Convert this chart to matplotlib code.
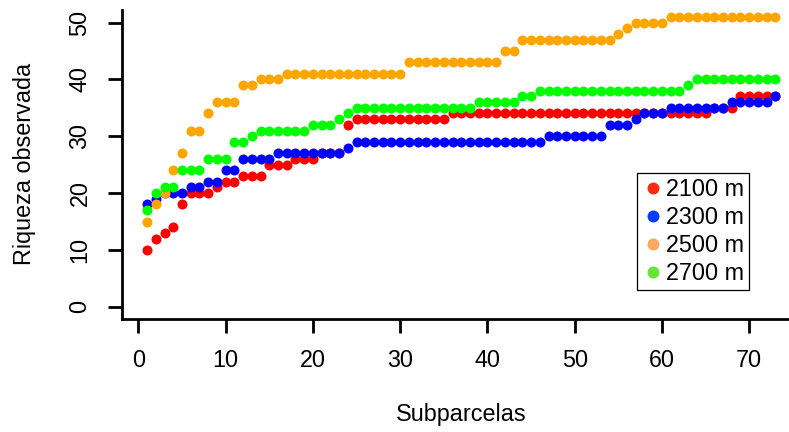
import numpy as np
import matplotlib.pyplot as plt
from matplotlib.lines import Line2D

plt.rcParams['font.family'] = ['Liberation Sans', 'DejaVu Sans']

# observed richness per cumulative subplot, one list per altitude
subparcelas = list(range(1, 74))

riqueza_2100 = [10, 12, 13, 14, 18, 20, 20, 20, 21, 22,
                22, 23, 23, 23, 25, 25, 25, 26, 26, 26,
                27, 27, 27, 32, 33, 33, 33, 33, 33, 33,
                33, 33, 33, 33, 33, 34, 34, 34, 34, 34,
                34, 34, 34, 34, 34, 34, 34, 34, 34, 34,
                34, 34, 34, 34, 34, 34, 34, 34, 34, 34,
                34, 34, 34, 34, 34, 35, 35, 35, 37, 37,
                37, 37, 37]
riqueza_2300 = [18, 19, 20, 20, 20, 21, 21, 22, 22, 24,
                24, 26, 26, 26, 26, 27, 27, 27, 27, 27,
                27, 27, 27, 28, 29, 29, 29, 29, 29, 29,
                29, 29, 29, 29, 29, 29, 29, 29, 29, 29,
                29, 29, 29, 29, 29, 29, 30, 30, 30, 30,
                30, 30, 30, 32, 32, 32, 33, 34, 34, 34,
                35, 35, 35, 35, 35, 35, 35, 36, 36, 36,
                36, 36, 37]
riqueza_2500 = [15, 18, 20, 24, 27, 31, 31, 34, 36, 36,
                36, 39, 39, 40, 40, 40, 41, 41, 41, 41,
                41, 41, 41, 41, 41, 41, 41, 41, 41, 41,
                43, 43, 43, 43, 43, 43, 43, 43, 43, 43,
                43, 45, 45, 47, 47, 47, 47, 47, 47, 47,
                47, 47, 47, 47, 48, 49, 50, 50, 50, 50,
                51, 51, 51, 51, 51, 51, 51, 51, 51, 51,
                51, 51, 51]
riqueza_2700 = [17, 20, 21, 21, 24, 24, 24, 26, 26, 26,
                29, 29, 30, 31, 31, 31, 31, 31, 31, 32,
                32, 32, 33, 34, 35, 35, 35, 35, 35, 35,
                35, 35, 35, 35, 35, 35, 35, 35, 36, 36,
                36, 36, 36, 37, 37, 38, 38, 38, 38, 38,
                38, 38, 38, 38, 38, 38, 38, 38, 38, 38,
                38, 38, 39, 40, 40, 40, 40, 40, 40, 40,
                40, 40, 40]

etiquetas = ['2100 m', '2300 m', '2500 m', '2700 m']
series = [riqueza_2100, riqueza_2300, riqueza_2500, riqueza_2700]
colores = ['#ff0000', '#0000ff', '#ffa500', '#00ff00']
colores_leyenda = ['#ff2a10', '#0a3cff', '#ffa860', '#66e633']

W, H = 789, 432
fig = plt.figure(figsize=(W / 100, H / 100), dpi=100)
# plot region in pixels: left 122, right 800 (runs past the edge), top 10, bottom 318.5
ax = fig.add_axes([122 / W, (H - 318.5) / H, (800.5 - 122) / W, (318.5 - 10) / H])

for y, c in zip(series, colores):
    ax.plot(subparcelas, y, 'o', color=c, markersize=7.2, markeredgewidth=0)

ax.set_xlim(-1.88, 75.88)
ax.set_ylim(-2.06, 52.2)
ax.set_xticks([0, 10, 20, 30, 40, 50, 60, 70])
ax.set_yticks([0, 10, 20, 30, 40, 50])

for s in ['top', 'right']:
    ax.spines[s].set_visible(False)
for s in ['left', 'bottom']:
    ax.spines[s].set_linewidth(2.0)

fs = 16.8
ax.tick_params(axis='both', length=10, width=2.0, labelsize=fs, direction='out')
ax.tick_params(axis='x', pad=12)
ax.tick_params(axis='y', pad=12, labelrotation=90)
for lab in ax.get_yticklabels():
    lab.set_verticalalignment('center')

fig.text(25 / W, 1 - 164 / H, 'Riqueza observada', rotation=90,
         ha='center', va='center', fontsize=fs)
fig.text(461 / W, 1 - 415 / H, 'Subparcelas', ha='center', va='center', fontsize=fs)

handles = [Line2D([], [], linestyle='none', marker='o', markersize=8.6,
                  markeredgewidth=0, color=c) for c in colores_leyenda]
leg = ax.legend(handles, etiquetas, loc='upper left',
                bbox_to_anchor=(637 / W, 1 - 173 / H), bbox_transform=fig.transFigure,
                borderaxespad=0, fontsize=fs, fancybox=False, framealpha=1,
                edgecolor='black', borderpad=0.2, labelspacing=0.22,
                handlelength=1.0, handletextpad=0.05)
leg.get_frame().set_linewidth(0.9)

fig.savefig('out.png', dpi=100)
